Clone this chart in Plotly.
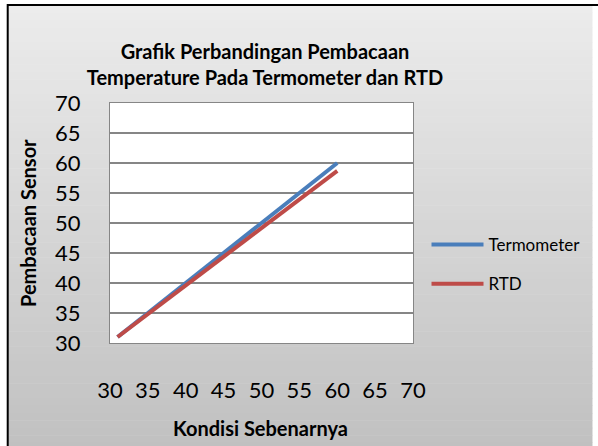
import plotly.graph_objects as go

# Data
kondisi_termo = [31, 40, 50, 60]
termometer = [31, 40, 50, 60]
kondisi_rtd = [31, 40, 50, 60]
rtd = [31, 39.6, 49.2, 58.7]
x_ticks = [30, 35, 40, 45, 50, 55, 60, 65, 70]
y_ticks = [30, 35, 40, 45, 50, 55, 60, 65, 70]

W, H = 598, 446
L, R, T, B = 110, 424, 103, 343  # plot area in px

def px2x(p):
    return (p - L) / (R - L)

def px2y(p):
    return (B - p) / (B - T)

FONT = "Lato"

fig = go.Figure()
fig.add_trace(go.Scatter(x=kondisi_termo, y=termometer, mode="lines", name="Termometer",
                         line=dict(color="#4A7EBB", width=4), legendgroup="a"))
fig.add_trace(go.Scatter(x=kondisi_rtd, y=rtd, mode="lines", name="RTD",
                         line=dict(color="#BE4B48", width=4), legendgroup="b"))

# gradient chart-area background (image is cropped: border only on top/left)
shapes = []
n = 60
top, bot = 5, 450
c0, c1 = (236, 236, 236), (192, 192, 192)
for i in range(n):
    y0p = top + (bot - top) * i / n
    y1p = top + (bot - top) * (i + 1) / n + 0.5
    t = (i + 0.5) / n
    c = tuple(int(round(c0[k] + (c1[k] - c0[k]) * t)) for k in range(3))
    shapes.append(dict(type="rect", xref="paper", yref="paper", layer="below",
                       x0=px2x(4), x1=px2x(610), y0=px2y(y0p), y1=px2y(y1p),
                       line=dict(width=0), fillcolor="rgb(%d,%d,%d)" % c))
shapes.append(dict(type="rect", xref="paper", yref="paper", layer="below",
                   x0=0, x1=1, y0=0, y1=1, line=dict(width=0), fillcolor="white"))
shapes.append(dict(type="rect", xref="paper", yref="paper", layer="above",
                   x0=px2x(4), x1=px2x(620), y0=px2y(5), y1=px2y(470),
                   line=dict(width=2, color="black"), fillcolor="rgba(0,0,0,0)"))

fig.update_layout(
    width=W, height=H, autosize=False,
    margin=dict(l=L, r=W - R, t=T, b=H - B),
    paper_bgcolor="white", plot_bgcolor="white",
    shapes=shapes,
    title=dict(text="Grafik Perbandingan Pembacaan<br>Temperature Pada Termometer dan RTD",
               x=265 / W, xanchor="center", y=1 - 59 / H, yanchor="middle",
               font=dict(family=FONT, size=20, color="black", weight="bold")),
    font=dict(family=FONT, color="black"),
    xaxis=dict(range=[30, 70], tickvals=x_ticks, ticks="", showgrid=False, zeroline=False,
               showline=True, linecolor="#868686", linewidth=1, mirror=True,
               ticklabelstandoff=28, tickfont=dict(size=22, family=FONT)),
    yaxis=dict(range=[30, 70], tickvals=y_ticks, ticks="", showgrid=True, gridcolor="#868686",
               gridwidth=1.5, zeroline=False, showline=True, linecolor="#868686", linewidth=1,
               mirror=True, ticklabelstandoff=24, tickfont=dict(size=22, family=FONT)),
    legend=dict(x=px2x(438), xanchor="left", y=px2y(264.5), yanchor="middle",
                bgcolor="rgba(0,0,0,0)", font=dict(size=17, family=FONT),
                traceorder="grouped", tracegroupgap=14, itemwidth=52),
    annotations=[
        dict(text="<b>Kondisi Sebenarnya</b>", xref="paper", yref="paper",
             x=px2x(266), y=px2y(428), xanchor="center", yanchor="middle",
             showarrow=False, font=dict(size=20, family=FONT)),
        dict(text="<b>Pembacaan Sensor</b>", xref="paper", yref="paper", textangle=-90,
             x=px2x(25), y=px2y(223), xanchor="center", yanchor="middle",
             showarrow=False, font=dict(size=20, family=FONT)),
    ],
)

fig.write_html(
    "out.html",
    config={"displayModeBar": False, "responsive": False},
    post_script=("document.documentElement.style.overflow='hidden';"
                 "document.body.style.overflow='hidden';"
                 "document.body.style.margin='0';"),
)
